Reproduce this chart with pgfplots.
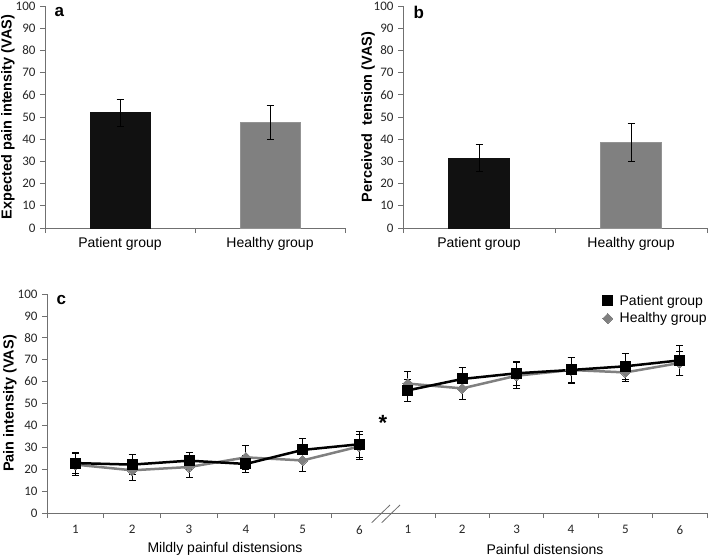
\documentclass[border=0pt]{standalone}
\usepackage{fontspec}
\setmainfont{Liberation Sans}
\newfontfamily\carlito{Carlito}
\usepackage{pgfplots}
\pgfplotsset{compat=1.18}
\usepackage{pgfplotstable}

\definecolor{patc}{HTML}{111111}
\definecolor{healc}{HTML}{808080}
\definecolor{axc}{HTML}{707070}

% panel a / b data: x value error
\pgfplotstableread{
x y e
0 52.0 6.0
}\aPat
\pgfplotstableread{
x y e
1 47.5 7.75
}\aHea
\pgfplotstableread{
x y e
0 31.5 6.1
}\bPat
\pgfplotstableread{
x y e
1 38.5 8.65
}\bHea

% panel c: mildly painful distensions
\pgfplotstableread{
x p pe h he
28.4  22.8 4.8 22.1 5.0
85.2  22.1 4.5 19.5 4.7
142.0 23.9 4.0 21.0 4.7
198.8 22.4 4.0 25.4 5.5
255.6 28.8 5.4 24.0 5.0
312.4 31.4 6.0 30.4 5.7
}\cMild
% panel c: painful distensions
\pgfplotstableread{
x p pe h he
360.8 56.0 5.0 59.1 5.6
415.2 61.2 5.3 56.9 5.1
469.6 63.8 5.6 62.7 5.9
524.0 65.3 5.8 65.3 5.9
578.4 67.0 6.0 64.2 4.2
632.8 69.7 6.9 68.5 5.5
}\cPain

\pgfplotsset{
  base/.style={
    scale only axis,
    axis x line=bottom, axis y line=left,
    axis line style={-, axc, line width=0.8pt},
    ymin=0, ymax=100, ytick={0,10,...,100},
    tick align=outside, major tick length=5pt, minor tick length=5pt,
    tick style={axc, line width=0.8pt},
    /pgf/number format/assume math mode=true,
    yticklabel style={font=\carlito\fontsize{13}{13}\selectfont, text=black!85, xshift=-1pt},
    ylabel style={font=\bfseries\fontsize{14.5}{16}\selectfont, at={(rel axis cs:0,0.5)}, anchor=center},
    major x tick style={draw=none},
    clip=false,
  },
  barerr/.style={
    error bars/y dir=both, error bars/y explicit,
    error bars/error bar style={black, line width=0.7pt},
    error bars/error mark options={rotate=90, mark size=3.5pt, black, line width=0.7pt}},
}

\begin{document}
\begin{tikzpicture}
\path[use as bounding box] (0,0) rectangle (709pt,-556pt);

% ---------- panel a ----------
\begin{axis}[base, at={(45pt,-228pt)}, anchor=south west, width=300pt, height=222pt,
  xmin=-0.5, xmax=1.5, xtick={0,1}, xticklabels={Patient group, Healthy group},
  minor xtick={-0.5,0.5,1.5},
  xticklabel style={font=\fontsize{14}{15}\selectfont, yshift=-1pt},
  ylabel={Expected pain intensity (VAS)}, ylabel style={yshift=37pt}]
\addplot[ybar, bar width=0.4, bar shift=0pt, fill=patc, draw=patc, barerr] table[x=x,y=y,y error=e]{\aPat};
\addplot[ybar, bar width=0.4, bar shift=0pt, fill=healc, draw=healc!85!white, barerr] table[x=x,y=y,y error=e]{\aHea};
\end{axis}
\node[font=\bfseries\fontsize{17}{17}\selectfont, anchor=west] at (51pt,-12pt) {a};

% ---------- panel b ----------
\begin{axis}[base, at={(403pt,-228pt)}, anchor=south west, width=304pt, height=222pt,
  xmin=-0.5, xmax=1.5, xtick={0,1}, xticklabels={Patient group, Healthy group},
  minor xtick={-0.5,0.5,1.5},
  xticklabel style={font=\fontsize{14}{15}\selectfont, yshift=-1pt},
  ylabel={Perceived~ tension (VAS)}, ylabel style={yshift=35pt}]
\addplot[ybar, bar width=0.4, bar shift=0pt, fill=patc, draw=patc, barerr] table[x=x,y=y,y error=e]{\bPat};
\addplot[ybar, bar width=0.4, bar shift=0pt, fill=healc, draw=healc!85!white, barerr] table[x=x,y=y,y error=e]{\bHea};
\end{axis}
\node[font=\bfseries\fontsize{17}{17}\selectfont, anchor=west] at (410pt,-12pt) {b};

% ---------- panel c ----------
\begin{axis}[base, at={(47pt,-513pt)}, anchor=south west, width=660pt, height=219pt,
  xmin=0, xmax=660,
  xtick={28.4,85.2,142,198.8,255.6,312.4,360.8,415.2,469.6,524.0,578.4,632.8},
  xticklabels={1,2,3,4,5,6,1,2,3,4,5,6},
  minor xtick={0,56.8,113.6,170.4,227.2,284,388,442.4,496.8,551.2,605.6,660},
  xticklabel style={font=\carlito\fontsize{13}{13}\selectfont, text=black!85, yshift=-4pt},
  ylabel={Pain intensity (VAS)}, ylabel style={yshift=37pt},
  legend style={draw=none, fill=none, at={(rel axis cs:1,1.01)}, xshift=3pt, anchor=north east,
    font=\fontsize{14}{15}\selectfont, row sep=2pt, inner sep=1pt},
  legend cell align=left, reverse legend,
  ]
\addplot[healc, line width=2.5pt, mark=square*, mark size=3.6pt,
  mark options={rotate=45, fill=healc, draw=healc, line width=0pt}, barerr,
  legend image code/.code={\path[draw=none, fill=none] (-0.25cm,0cm) rectangle (0.35cm,0.01cm); \draw plot coordinates {(0cm,0cm)};}]
  table[x=x,y=h,y error=he]{\cMild};
\addlegendentry{Healthy group}
\addplot[healc, line width=2.5pt, mark=square*, mark size=3.6pt,
  mark options={rotate=45, fill=healc, draw=healc, line width=0pt}, barerr, forget plot]
  table[x=x,y=h,y error=he]{\cPain};
\addplot[black, line width=2.5pt, mark=square*, mark size=5pt,
  mark options={fill=black, draw=black, line width=0pt}, barerr,
  legend image code/.code={\path[draw=none, fill=none] (-0.25cm,0cm) rectangle (0.35cm,0.01cm); \draw plot coordinates {(0cm,0cm)};}]
  table[x=x,y=p,y error=pe]{\cMild};
\addlegendentry{Patient group}
\addplot[black, line width=2.5pt, mark=square*, mark size=5pt,
  mark options={fill=black, draw=black, line width=0pt}, barerr, forget plot]
  table[x=x,y=p,y error=pe]{\cPain};
\end{axis}
\node[font=\bfseries\fontsize{17}{17}\selectfont, anchor=west] at (53pt,-300pt) {c};
\node[font=\fontsize{14}{15}\selectfont] at (225pt,-549pt) {Mildly painful distensions};
\node[font=\fontsize{14}{15}\selectfont] at (545pt,-549pt) {Painful distensions};
\node[font=\bfseries\fontsize{22}{22}\selectfont] at (383pt,-423pt) {*};
\draw[axc, line width=0.8pt] (371.7pt,-522.7pt) -- (390pt,-505pt);
\draw[axc, line width=0.8pt] (381.7pt,-522.7pt) -- (400pt,-505pt);
\end{tikzpicture}
\end{document}
